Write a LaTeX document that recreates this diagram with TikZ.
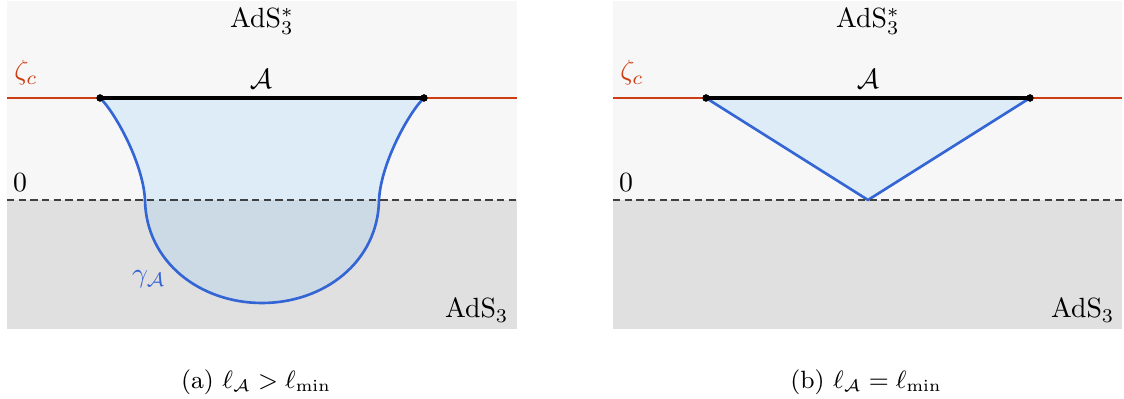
\documentclass[tikz,border=0pt]{standalone}
\usepackage{amsmath}
\definecolor{bgtop}{RGB}{247,247,247}
\definecolor{bgbot}{RGB}{224,224,224}
\definecolor{curveblue}{RGB}{52,101,212}
\definecolor{fillblue}{RGB}{133,201,251}
\definecolor{zetared}{RGB}{204,61,20}
\definecolor{dashgray}{RGB}{64,64,64}
\tikzset{
  topregion/.style={fill=bgtop},
  botregion/.style={fill=bgbot},
  cutoff/.style={draw=zetared,line width=0.85pt},
  interval/.style={draw=black,line width=1.1pt},
  zeroline/.style={draw=dashgray,line width=0.8pt,dash pattern=on 2.6pt off 1.6pt},
  rtcurve/.style={draw=curveblue,line width=0.95pt,fill=fillblue,fill opacity=0.22,line join=round},
  endpt/.style={circle,fill=black,inner sep=0pt,minimum size=2.6pt},
  lbl/.style={inner sep=0pt,font=\normalsize},
  captext/.style={inner sep=0pt,font=\small}
}
\begin{document}
\begin{tikzpicture}[x=0.36pt,y=-0.36pt]
\useasboundingbox (0,0) rectangle (1124,399);
% ---------- panel (a)
\fill[topregion] (7,1) rectangle (517,200);
\fill[botregion] (7,200) rectangle (517,329);
\coordinate (aL) at (7,98);
\coordinate (aR) at (517,98);
\coordinate (zL) at (7,200);
\coordinate (zR) at (517,200);
\node[endpt] (a1) at (100,98) {};
\node[endpt] (a2) at (424,98) {};
\path[rtcurve] (a1.center) .. controls (114,111) and (143,162) .. (145,200)
  .. controls (146,262) and (200,303) .. (262,303)
  .. controls (324,303) and (378,262) .. (379,200)
  .. controls (381,162) and (410,111) .. (a2.center) -- cycle;
\draw[zeroline] (zL) -- (zR);
\draw[cutoff] (aL) -- (a1.center);
\draw[cutoff] (a2.center) -- (aR);
\draw[interval] (a1.center) -- (a2.center);
\node[endpt] at (a1.center) {};
\node[endpt] at (a2.center) {};
\node[lbl] (astar) at (262,21) {AdS$_3^*$};
\node[lbl,text=zetared] (azeta) at (26,73) {$\zeta_c$};
\node[lbl] (aA) at (261,79) {$\mathcal{A}$};
\node[lbl] (azero) at (20,183) {$0$};
\node[lbl,text=curveblue] (agamma) at (149,279) {$\gamma_{\mathcal{A}}$};
\node[lbl,anchor=base east] (aads) at (509,318) {AdS$_3$};
\node[captext] (acap) at (256,382) {(a) $\ell_{\mathcal{A}} > \ell_{\min}$};
% ---------- panel (b)
\fill[topregion] (613,1) rectangle (1122,200);
\fill[botregion] (613,200) rectangle (1122,329);
\coordinate (bL) at (613,98);
\coordinate (bR) at (1122,98);
\coordinate (wL) at (613,200);
\coordinate (wR) at (1122,200);
\node[endpt] (b1) at (706,98) {};
\node[endpt] (b2) at (1030,98) {};
\coordinate (tip) at (868,200);
\path[rtcurve] (b1.center) -- (tip) -- (b2.center) -- cycle;
\draw[zeroline] (wL) -- (wR);
\draw[cutoff] (bL) -- (b1.center);
\draw[cutoff] (b2.center) -- (bR);
\draw[interval] (b1.center) -- (b2.center);
\node[endpt] at (b1.center) {};
\node[endpt] at (b2.center) {};
\node[lbl] (bstar) at (868,21) {AdS$_3^*$};
\node[lbl,text=zetared] (bzeta) at (632,73) {$\zeta_c$};
\node[lbl] (bA) at (868,79) {$\mathcal{A}$};
\node[lbl] (bzero) at (626,183) {$0$};
\node[lbl,anchor=base east] (bads) at (1115,318) {AdS$_3$};
\node[captext] (bcap) at (866,382) {(b) $\ell_{\mathcal{A}} = \ell_{\min}$};
\end{tikzpicture}
\end{document}
